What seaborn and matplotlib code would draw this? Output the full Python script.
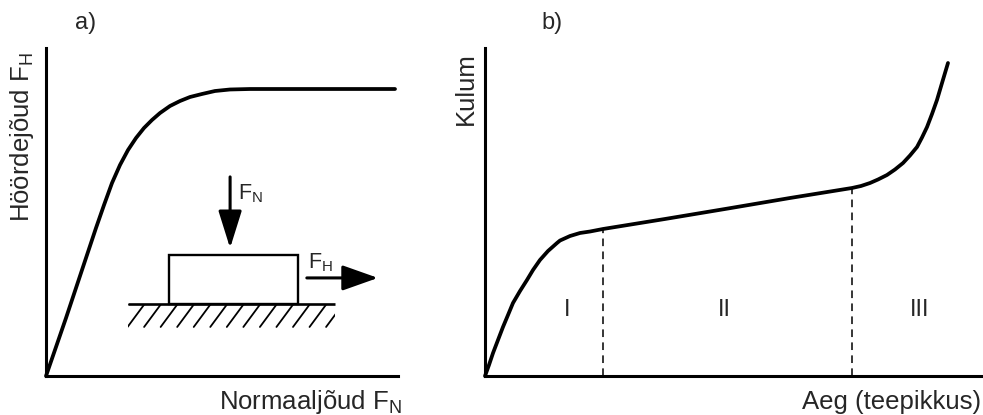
import numpy as np
import pandas as pd
import matplotlib
matplotlib.use('Agg')
import matplotlib.pyplot as plt
import seaborn as sns
from matplotlib.patches import Rectangle

# a) hõõrdejõud vs normaaljõud (suhtelised ühikud 0..10)
normal_force = [0, 0.284, 0.568, 0.852, 1.136, 1.420, 1.648, 1.875, 2.102, 2.330, 2.557,
                2.784, 3.011, 3.239, 3.523, 3.807, 4.091, 4.432, 4.801, 5.227, 5.795, 9.915]
friction_force = [0, 0.884, 1.768, 2.683, 3.598, 4.512, 5.213, 5.884, 6.433, 6.890, 7.256,
                  7.561, 7.805, 8.018, 8.232, 8.384, 8.506, 8.598, 8.689, 8.735, 8.750, 8.750]

# b) kulum vs aeg
time_b = [0, 0.080, 0.161, 0.261, 0.361, 0.462, 0.562, 0.703, 0.843, 0.964, 1.104, 1.265,
          1.446, 1.506, 1.707, 1.908, 2.108, 2.37, 3.614, 4.880, 6.124, 7.37, 7.550, 7.731,
          7.892, 8.072, 8.233, 8.394, 8.534, 8.675, 8.775, 8.876, 8.976, 9.076, 9.177, 9.297]
wear = [0, 0.335, 0.701, 1.098, 1.494, 1.860, 2.226, 2.591, 2.927, 3.232, 3.537, 3.811,
        4.055, 4.130, 4.268, 4.360, 4.405, 4.482, 4.787, 5.107, 5.427, 5.732, 5.793, 5.884,
        5.991, 6.128, 6.296, 6.494, 6.723, 6.982, 7.271, 7.591, 7.988, 8.415, 8.933, 9.543]
phase_bounds = [2.37, 7.37]
phase_labels = ['I', 'II', 'III']

df_a = pd.DataFrame({'x': normal_force, 'y': friction_force})
df_b = pd.DataFrame({'x': time_b, 'y': wear})

sns.set_style('white')
plt.rcParams['font.family'] = ['Liberation Sans', 'DejaVu Sans']
plt.rcParams['mathtext.fontset'] = 'custom'
plt.rcParams['mathtext.rm'] = 'Liberation Sans'
plt.rcParams['mathtext.it'] = 'Liberation Sans:italic'
plt.rcParams['mathtext.bf'] = 'Liberation Sans:bold'

W, H = 983, 415
fig = plt.figure(figsize=(W / 100, H / 100), dpi=100)
ax_a = fig.add_axes([46 / W, 39 / H, 352 / W, 328 / H])
ax_b = fig.add_axes([485 / W, 39 / H, 498 / W, 328 / H])

for ax in (ax_a, ax_b):
    ax.set_xlim(0, 10)
    ax.set_ylim(0, 10)
    ax.set_xticks([])
    ax.set_yticks([])
    for s in ('left', 'bottom'):
        ax.spines[s].set_linewidth(2.2)
        ax.spines[s].set_color('black')
    ax.set_facecolor('none')
sns.despine(fig=fig)

# kõverad
sns.lineplot(data=df_a, x='x', y='y', ax=ax_a, color='black', lw=2.7, sort=False,
             clip_on=False, solid_joinstyle='round', solid_capstyle='round')
sns.lineplot(data=df_b, x='x', y='y', ax=ax_b, color='black', lw=2.7, sort=False,
             clip_on=False, solid_joinstyle='round', solid_capstyle='round')
for ax in (ax_a, ax_b):
    ax.set_xlabel('')
    ax.set_ylabel('')

# faaside piirid
for xb in phase_bounds:
    yb = wear[time_b.index(xb)]
    ax_b.plot([xb, xb], [0, yb], color='black', lw=1.1, ls=(0, (5, 3.5)))
for lab, xl in zip(phase_labels, [1.65, 4.80, 8.73]):
    ax_b.text(xl, 2.0, lab, ha='center', va='center', fontsize=17)

# skeem: klots, jõud ja alus
ax_a.add_patch(Rectangle((3.49, 2.195), 3.67, 1.495, fill=False, lw=1.7, ec='black'))
ax_a.plot([2.33, 8.21], [2.195, 2.195], color='black', lw=1.9, solid_capstyle='butt')
clip = Rectangle((2.33, 1.46), 5.88, 0.735, transform=ax_a.transData, visible=False)
ax_a.add_patch(clip)
for x0 in np.arange(2.33, 8.9, 0.47):
    ln, = ax_a.plot([x0, x0 - 0.483], [2.195, 1.495], color='black', lw=1.3)
    ln.set_clip_path(clip)

ax_a.annotate('', xy=(5.23, 3.90), xytext=(5.23, 6.07),
              arrowprops=dict(arrowstyle='-|>,head_length=2.3,head_width=0.72',
                              lw=2.2, color='black', shrinkA=0, shrinkB=0))
ax_a.annotate('', xy=(9.43, 2.99), xytext=(7.41, 2.99),
              arrowprops=dict(arrowstyle='-|>,head_length=2.2,head_width=0.78',
                              lw=2.2, color='black', shrinkA=0, shrinkB=0))
ax_a.text(5.45, 5.55, r'$\mathrm{F}_\mathrm{N}$', fontsize=15.5, ha='left', va='center')
ax_a.text(7.44, 3.45, r'$\mathrm{F}_\mathrm{H}$', fontsize=15.5, ha='left', va='center')


def px(x, y):
    return x / W, 1 - y / H


fig.text(*px(86, 23), 'a)', fontsize=17, ha='center', va='center')
fig.text(*px(552, 23), 'b)', fontsize=17, ha='center', va='center')
fig.text(*px(22, 52), r'Höördejõud $\mathrm{F}_\mathrm{H}$', fontsize=18.5,
         rotation=90, ha='center', va='top')
fig.text(*px(466, 52), 'Kulum', fontsize=18.5, rotation=90, ha='center', va='top')
fig.text(*px(402, 409), r'Normaaljõud $\mathrm{F}_\mathrm{N}$', fontsize=18.5,
         ha='right', va='baseline')
fig.text(*px(981, 409), 'Aeg (teepikkus)', fontsize=18.5, ha='right', va='baseline')

fig.savefig('out.png', dpi=100)
